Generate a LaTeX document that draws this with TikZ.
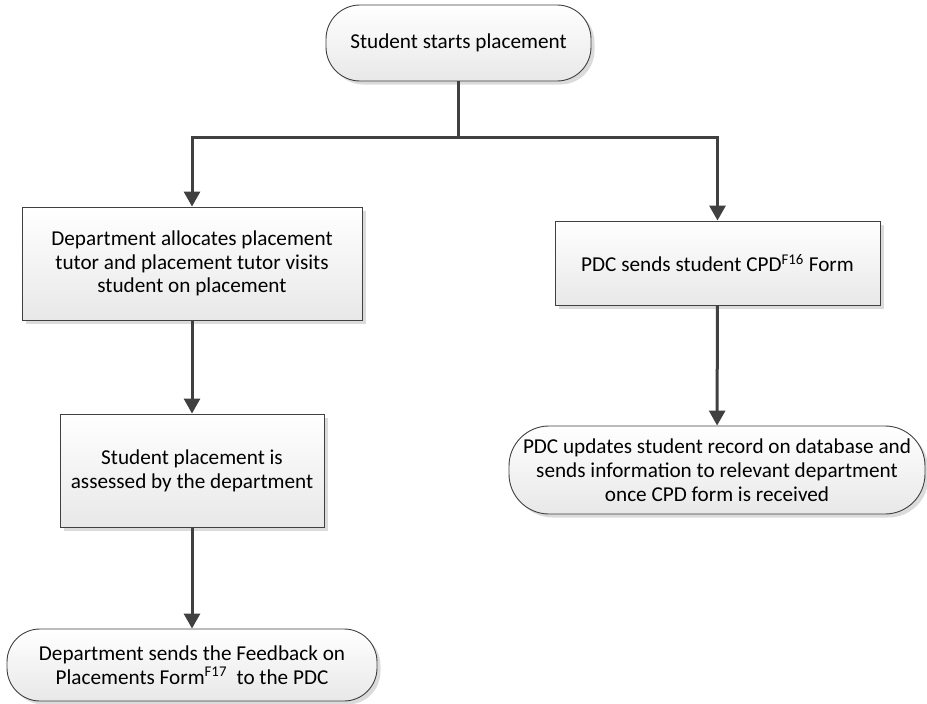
\documentclass[tikz,border=0pt]{standalone}
\usepackage{fontspec}
\setmainfont{Carlito}
\usetikzlibrary{arrows.meta,shadows}
\begin{document}
\begin{tikzpicture}[x=1pt,y=-1pt,
  base/.style={draw=black!75, line width=0.9pt, top color=white, bottom color=black!9,
    drop shadow={shadow xshift=3.5pt,shadow yshift=-3.5pt,fill=black!14,opacity=1},
    align=center, inner sep=1pt, font=\fontsize{21.2}{23.8}\selectfont},
  procbox/.style={base, rectangle},
  termbox/.style={base, rectangle},
  arr/.style={draw=black!75, line width=3pt, -{Triangle[width=16pt,length=15pt]}},
  ln/.style={draw=black!75, line width=3pt}]
\useasboundingbox (0,0) rectangle (927,704);
\node[termbox, minimum width=265pt, minimum height=76pt, rounded corners=34pt] (start) at (458.5,43) {Student starts placement};
\node[procbox, minimum width=340pt, minimum height=113pt] (dept) at (192,263.5) {Department allocates placement\\tutor and placement tutor visits\\student on placement};
\node[procbox, minimum width=264pt, minimum height=113pt] (assess) at (192,470.5) {Student placement is\\assessed by the department};
\node[termbox, minimum width=370pt, minimum height=72pt, rounded corners=33pt] (fb) at (192,665) {Department sends the Feedback on\\Placements Form\textsuperscript{F17}\ \ to the PDC};
\node[procbox, minimum width=325pt, minimum height=84pt] (pdc) at (717.5,263) {PDC sends student CPD\textsuperscript{F16} Form};
\node[termbox, minimum width=416pt, minimum height=88pt, rounded corners=40pt] (upd) at (717,470) {PDC updates student record on database and\\sends information to relevant department\\once CPD form is received};
\coordinate (j) at (458.5,137.5);
\draw[ln] (start) -- (j);
\draw[arr] (j) -| (dept);
\draw[arr] (j) -| (pdc);
\draw[arr] (dept) -- (assess);
\draw[arr] (assess) -- (fb);
\draw[arr] (pdc) -- (upd);
\end{tikzpicture}
\end{document}
